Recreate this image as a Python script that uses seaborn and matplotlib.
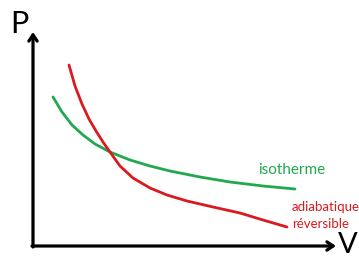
import matplotlib
matplotlib.use("Agg")
import matplotlib.pyplot as plt
import pandas as pd
import seaborn as sns

# curves (arbitrary units, origin at the axes corner)
v_iso = [20, 29, 39, 50, 62, 77, 97, 117, 137, 167, 197, 230, 262]
p_iso = [149, 134, 121, 111, 102, 94, 86, 80, 75, 69, 64, 60, 57]
v_adia = [36, 42, 49, 56, 63, 70, 77, 87, 100, 117, 134, 154, 180, 207, 230, 254]
p_adia = [181, 160, 142, 127, 115, 104, 94, 80, 68, 58, 51, 45, 39, 33, 26, 19]

labels = ["isotherme", "adiabatique\nréversible"]
colors = ["#22a84f", "#d91a1f"]

df = pd.concat([
    pd.DataFrame({"V": v_iso, "P": p_iso, "courbe": labels[0]}),
    pd.DataFrame({"V": v_adia, "P": p_adia, "courbe": labels[1]}),
])

sns.set_style("white")
plt.rcParams["font.family"] = ["Lato", "DejaVu Sans"]

fig = plt.figure(figsize=(3.59, 2.57), dpi=100)
ax = fig.add_axes([0, 0, 1, 1])
sns.lineplot(data=df, x="V", y="P", hue="courbe", palette=colors,
             sort=False, estimator=None, linewidth=2.0, legend=False, ax=ax)
ax.set_xlim(-33, 326)
ax.set_ylim(-11, 246)
ax.axis("off")

# axes drawn as arrows
arrow = dict(arrowstyle="->,head_length=0.45,head_width=0.3", lw=2.3, color="black",
             shrinkA=0, shrinkB=0)
ax.annotate("", xy=(0, 214), xytext=(0, -1), arrowprops=arrow)
ax.annotate("", xy=(303, 0), xytext=(-1, 0), arrowprops=arrow)
ax.text(-14, 222, "P", fontsize=22, color="black", ha="center", va="center")
ax.text(315, 1, "V", fontsize=21, color="black", ha="center", va="center")

ax.text(225, 76, "isotherme", color=colors[0], fontsize=11, ha="left", va="center")
ax.text(259, 39, "adiabatique", color=colors[1], fontsize=9.5, ha="left", va="center")
ax.text(259, 22, "réversible", color=colors[1], fontsize=9.5, ha="left", va="center")

fig.savefig("out.png", dpi=100)
